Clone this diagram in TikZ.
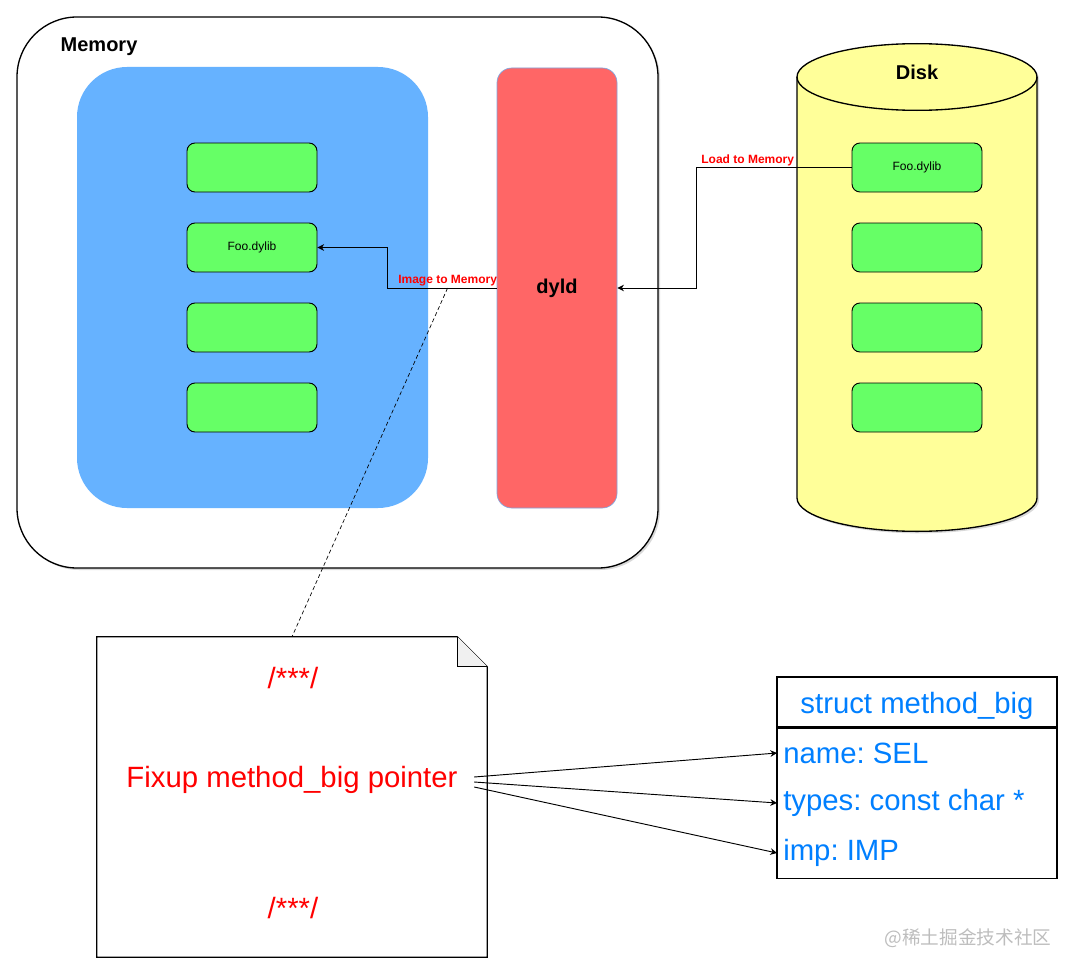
\documentclass[tikz,border=0pt]{standalone}
\usepackage{fontspec}
\setmainfont{Liberation Sans}
\newfontfamily\cjkfont{Noto Sans CJK SC}
\usetikzlibrary{arrows.meta,calc,shadows}
\definecolor{MemBlue}{HTML}{66B2FF}
\definecolor{LibGreen}{HTML}{66FF66}
\definecolor{DyldRed}{HTML}{FF6666}
\definecolor{DyldEdge}{HTML}{7EA6E0}
\definecolor{DiskYellow}{HTML}{FFFF99}
\definecolor{NoteRed}{HTML}{FF0000}
\definecolor{StructBlue}{HTML}{007FFF}
\definecolor{FoldGray}{HTML}{F0F0F0}
\definecolor{MarkGray}{HTML}{BDBDBD}
\frenchspacing

\begin{document}
\begin{tikzpicture}[
  x=.75pt, y=-.75pt,
  font=\fontsize{9}{11}\selectfont,
  lib/.style={rounded corners=6pt, draw=black, fill=LibGreen, line width=.7pt,
    minimum width=97.5pt, minimum height=36.75pt, inner sep=0pt},
  flow/.style={-{Stealth[length=5pt,width=5pt]}, line width=.7pt, draw=black},
  lbl/.style={font=\fontsize{9}{11}\selectfont\bfseries, text=NoteRed, inner sep=1pt},
  title/.style={font=\fontsize{15}{18}\selectfont\bfseries},
  big/.style={font=\fontsize{22}{26}\selectfont},
  row/.style={big, text=StructBlue, anchor=west, inner sep=4.5pt},
  boxshadow/.style={drop shadow={opacity=.3, shadow xshift=1.5pt, shadow yshift=-1.5pt}}
]
\useasboundingbox (0,0) rectangle (1074,974);

% Memory side: process image and the loader.
\node[draw, line width=1pt, fill=white, rounded corners=45pt, boxshadow,
  minimum width=480.75pt, minimum height=413.25pt] (memory) at (337.5,292.5) {};
\node[title, anchor=west] (memlbl) at (56,47) {Memory};
\node[fill=MemBlue, rounded corners=37.5pt,
  minimum width=263.25pt, minimum height=330.75pt] (image) at (252.5,287.5) {};
\foreach \y/\t [count=\i] in {167.5/{},247.5/Foo.dylib,327.5/{},407.5/{}}
  \node[lib] (mem\i) at (252,\y) {\t};
\node[title, fill=DyldRed, draw=DyldEdge, line width=.5pt, rounded corners=11pt,
  minimum width=90pt, minimum height=330pt] (dyld) at (557,288) {dyld};

% Disk side: cylinder drawn by hand.
\draw[fill=DiskYellow, line width=1pt, boxshadow] (797,77) -- (797,498)
  arc[start angle=180, end angle=360, x radius=90pt, y radius=25pt] -- (1037,77)
  arc[start angle=0, end angle=180, x radius=90pt, y radius=25pt] -- cycle;
\draw[line width=1pt] (797,77) arc[start angle=180, end angle=360, x radius=90pt, y radius=25pt];
\node[title] (disklbl) at (917,72) {Disk};
\foreach \y/\t [count=\i] in {167.5/Foo.dylib,247.5/{},327.5/{},407.5/{}}
  \node[lib] (disk\i) at (917,\y) {\t};

\draw[flow] (disk1.west) -- node[lbl, above, pos=.67] (loadlbl) {Load to Memory}
  ++(-155,0) |- (dyld.east);
\draw[flow] (dyld.west) -- node[lbl, above, pos=.45] (imglbl) {Image to Memory}
  ++(-109,0) |- (mem2.east);

% Note with folded corner.
\node[minimum width=292.5pt, minimum height=240pt, inner sep=0pt] (note) at (292,797) {};
\draw[line width=.8pt] (note.north west) -- ($(note.north east)+(-30,0)$)
  -- ($(note.north east)+(0,30)$) -- (note.south east) -- (note.south west) -- cycle;
\draw[line width=.8pt, fill=FoldGray] ($(note.north east)+(-30,0)$) -- ++(0,30) -- ++(30,0);
\draw[dashed, line width=.5pt, dash pattern=on 3pt off 2pt] (imglbl.south) -- (note.north);
\node[big, text=NoteRed] (open) at (293,678) {/***/};
\node[big, text=NoteRed] (fixup) at (292,780) {Fixup method\_big pointer};
\node[big, text=NoteRed] (close) at (293,908) {/***/};

% Struct layout.
\node[draw, line width=.8pt, minimum width=210pt, minimum height=37.5pt] (head) at (917,702) {};
\node[big, text=StructBlue] (headtxt) at (917,706) {struct method\_big};
\node[draw, line width=.8pt, anchor=north,
  minimum width=210pt, minimum height=112.5pt] (fields) at (head.south) {};
\node[row] (fname) at (777,753) {name: SEL};
\node[row] (ftypes) at (777,803) {types: const char *};
\node[row] (fimp) at (777,853) {imp: IMP};

\draw[flow] ([shift={(12,-3)}]fixup.east) -- (fname.west);
\draw[flow] ([shift={(12,2)}]fixup.east) -- (ftypes.west);
\draw[flow] ([shift={(12,7)}]fixup.east) -- (fimp.west);

\node[text=MarkGray, font=\cjkfont\fontsize{14}{16}\selectfont] (mark) at (968,938)
  {@稀土掘金技术社区};
\end{tikzpicture}
\end{document}
